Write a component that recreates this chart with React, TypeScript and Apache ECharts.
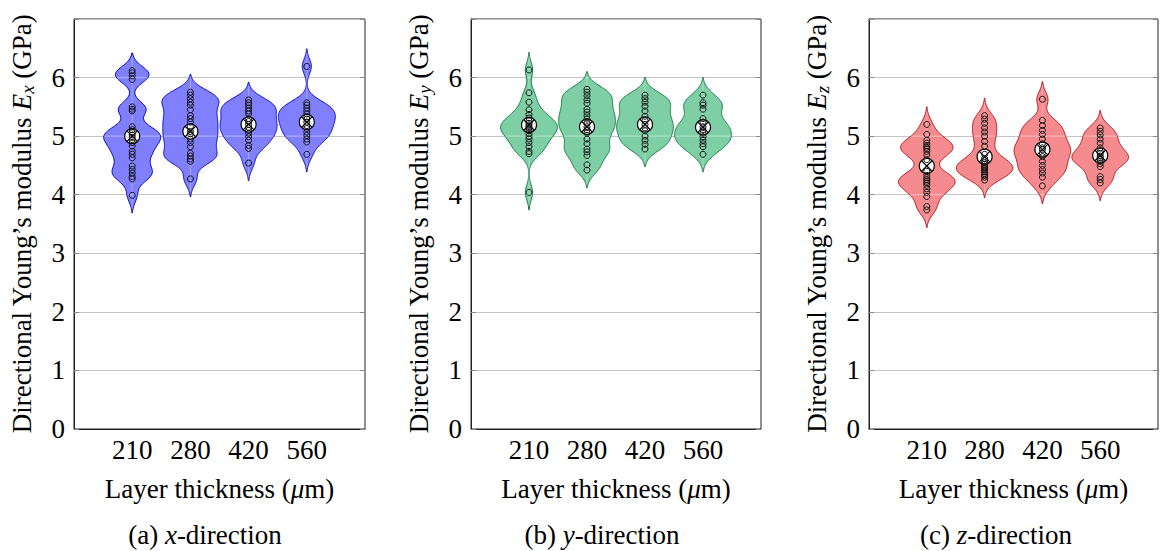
import React, { useEffect, useRef } from 'react';
import * as echarts from 'echarts';

const categories = ['210', '280', '420', '560'];
const yTicks = [0, 1, 2, 3, 4, 5, 6];

// Directional Young's modulus data points (GPa), one list per layer thickness
const exPoints: number[][] = [
  [6.12, 6.08, 6.03, 5.97, 5.50, 5.46, 5.43, 5.16, 5.11, 5.06, 5.02, 4.98, 4.94, 4.89, 4.83, 4.74, 4.69, 4.63, 4.49, 4.43, 4.37, 4.31, 4.27, 3.99],
  [5.75, 5.70, 5.64, 5.58, 5.53, 5.45, 5.35, 5.30, 5.24, 5.16, 5.08, 5.04, 4.95, 4.89, 4.82, 4.71, 4.66, 4.61, 4.57, 4.27],
  [5.62, 5.57, 5.53, 5.48, 5.43, 5.38, 5.30, 5.25, 5.20, 5.15, 5.10, 5.05, 4.99, 4.93, 4.84, 4.79, 4.54],
  [6.19, 5.57, 5.53, 5.48, 5.43, 5.38, 5.33, 5.29, 5.24, 5.18, 5.13, 5.07, 5.01, 4.95, 4.90, 4.69],
];
const eyPoints: number[][] = [
  [6.13, 5.74, 5.58, 5.45, 5.37, 5.31, 5.26, 5.22, 5.19, 5.16, 5.13, 5.09, 5.05, 5.00, 4.95, 4.89, 4.82, 4.74, 4.70, 4.04],
  [5.80, 5.75, 5.69, 5.62, 5.56, 5.46, 5.41, 5.35, 5.29, 5.22, 5.16, 5.11, 5.05, 4.95, 4.87, 4.78, 4.73, 4.67, 4.51, 4.42],
  [5.70, 5.64, 5.58, 5.51, 5.43, 5.34, 5.27, 5.20, 5.14, 5.09, 5.00, 4.93, 4.86, 4.78],
  [5.70, 5.57, 5.53, 5.46, 5.30, 5.24, 5.16, 5.11, 5.05, 4.99, 4.93, 4.87, 4.82, 4.69],
];
const ezPoints: number[][] = [
  [5.20, 5.03, 4.93, 4.88, 4.84, 4.81, 4.78, 4.74, 4.68, 4.60, 4.40, 4.33, 4.29, 4.26, 4.23, 4.20, 4.16, 4.10, 4.04, 3.97, 3.80, 3.74],
  [5.35, 5.29, 5.22, 5.14, 5.07, 5.00, 4.91, 4.83, 4.69, 4.62, 4.58, 4.55, 4.52, 4.49, 4.47, 4.45, 4.42, 4.39, 4.36, 4.33, 4.30, 4.25],
  [5.63, 5.27, 5.18, 5.10, 5.03, 4.95, 4.87, 4.80, 4.77, 4.71, 4.65, 4.57, 4.50, 4.43, 4.37, 4.30, 4.15],
  [5.14, 5.08, 5.02, 4.95, 4.88, 4.80, 4.74, 4.70, 4.66, 4.63, 4.60, 4.57, 4.53, 4.48, 4.31, 4.26, 4.20],
];

// Mean markers
const exMeans = [5.00, 5.08, 5.20, 5.24];
const eyMeans = [5.19, 5.16, 5.20, 5.15];
const ezMeans = [4.49, 4.65, 4.77, 4.67];

const captions = [
  ['(a) ', 'x', '-direction'],
  ['(b) ', 'y', '-direction'],
  ['(c) ', 'z', '-direction'],
];
const subscripts = ['x', 'y', 'z'];

const FONT = 'Liberation Serif';
const FS = 27;

const panels = [
  { pts: exPoints, means: exMeans, fill: '#8080ff', edge: '#0a0ac8', left: 74, width: 291, capX: 205 },
  { pts: eyPoints, means: eyMeans, fill: '#7fcfa6', edge: '#147a42', left: 471, width: 290, capX: 602 },
  { pts: ezPoints, means: ezMeans, fill: '#f58b8f', edge: '#b0141e', left: 869, width: 289, capX: 996 },
];

const BW = 0.125;
const CUT = 0.3;
const HALF = 0.49;

function profile(vals: number[]) {
  const lo = Math.min(...vals) - CUT;
  const hi = Math.max(...vals) + CUT;
  const n = 160;
  const ys: number[] = [];
  const ds: number[] = [];
  for (let k = 0; k <= n; k++) {
    const y = lo + ((hi - lo) * k) / n;
    let s = 0;
    for (const v of vals) {
      const z = (y - v) / BW;
      s += Math.exp(-0.5 * z * z);
    }
    ys.push(y);
    ds.push(s);
  }
  const m = Math.max(...ds);
  return { ys, ws: ds.map((d) => (HALF * d) / m), lo, hi };
}

function widthAt(pr: { ys: number[]; ws: number[] }, y: number) {
  for (let k = 0; k < pr.ys.length - 1; k++) {
    if (y >= pr.ys[k] && y <= pr.ys[k + 1]) {
      const t = (y - pr.ys[k]) / (pr.ys[k + 1] - pr.ys[k]);
      return pr.ws[k] + t * (pr.ws[k + 1] - pr.ws[k]);
    }
  }
  return 0;
}

const rich = {
  n: { fontFamily: FONT, fontSize: FS, color: '#000', lineHeight: 30, verticalAlign: 'middle' as const },
  i: { fontFamily: FONT, fontSize: FS, color: '#000', fontStyle: 'italic' as const, lineHeight: 30, verticalAlign: 'middle' as const },
  s: { fontFamily: FONT, fontSize: 19, color: '#000', fontStyle: 'italic' as const, lineHeight: 18, verticalAlign: 'bottom' as const },
};

export default function App() {
  const ref = useRef<HTMLDivElement>(null);
  useEffect(() => {
    if (!ref.current) return;
    const chart = echarts.init(ref.current, undefined, { renderer: 'svg' });
    const grid: any[] = [];
    const xAxis: any[] = [];
    const yAxis: any[] = [];
    const series: any[] = [];
    const graphic: any[] = [];

    panels.forEach((p, gi) => {
      grid.push({
        left: p.left, top: 19, width: p.width, height: 410,
        show: true, borderColor: '#222', borderWidth: 1, backgroundColor: 'transparent',
      });
      xAxis.push({
        type: 'value', gridIndex: gi, min: 0, max: 5, interval: 1,
        axisLine: { lineStyle: { color: '#222', width: 1 } },
        axisTick: { show: false },
        splitLine: { show: false },
        axisLabel: {
          margin: 7, fontFamily: FONT, fontSize: FS, color: '#000',
          formatter: (v: number) => categories[v - 1] ?? '',
        },
        name: '{n|Layer thickness (}{i|μ}{n|m)}',
        nameLocation: 'middle', nameGap: 45,
        nameTextStyle: { rich },
      });
      yAxis.push({
        type: 'value', gridIndex: gi, min: 0, max: 7, interval: 1,
        axisLine: { show: true, lineStyle: { color: '#222', width: 1 } },
        axisTick: { show: true, inside: true, length: 5, lineStyle: { color: '#888' } },
        splitLine: { show: true, lineStyle: { color: '#c4c4c4', width: 1 } },
        axisLabel: {
          margin: 9, fontFamily: FONT, fontSize: FS, color: '#000',
          formatter: (v: number) => (yTicks.includes(v) ? String(v) : ''),
        },
        name: `{n|Directional Young’s modulus }{i|E}{s|${subscripts[gi]}}{n| (GPa)}`,
        nameLocation: 'middle', nameGap: 37,
        nameTextStyle: { rich },
      });
      yAxis.push({
        type: 'value', gridIndex: gi, min: 0, max: 7, interval: 1, position: 'right',
        axisLine: { show: false },
        axisTick: { show: true, inside: true, length: 5, lineStyle: { color: '#888' } },
        splitLine: { show: false },
        axisLabel: { show: false },
      });

      const profiles = p.pts.map((vals) => profile(vals));
      series.push({
        type: 'custom', xAxisIndex: gi, yAxisIndex: gi * 2, z: 2,
        data: p.means.map((m, i) => [i + 1, m]),
        encode: { x: 0, y: 1 },
        renderItem: (params: any, api: any) => {
          const pos = api.value(0);
          const pr = profiles[pos - 1];
          const right: number[][] = [];
          const left: number[][] = [];
          for (let k = 0; k < pr.ys.length; k++) {
            right.push(api.coord([pos + pr.ws[k], pr.ys[k]]));
          }
          for (let k = pr.ys.length - 1; k >= 0; k--) {
            left.push(api.coord([pos - pr.ws[k], pr.ys[k]]));
          }
          const top = api.coord([pos, pr.hi]);
          const bot = api.coord([pos, pr.lo]);
          const children: any[] = [
            {
              type: 'polygon',
              shape: { points: right.concat(left) },
              style: { fill: p.fill, stroke: p.edge, lineWidth: 1 },
            },
            {
              type: 'line',
              shape: { x1: top[0], y1: top[1] + 4, x2: bot[0], y2: bot[1] - 4 },
              style: { stroke: 'rgba(255,255,255,0.3)', lineWidth: 1 },
            },
          ];
          for (const g of yTicks) {
            if (g > pr.lo && g < pr.hi) {
              const w = widthAt(pr, g) - 0.01;
              if (w > 0) {
                const a = api.coord([pos - w, g]);
                const b = api.coord([pos + w, g]);
                children.push({
                  type: 'line',
                  shape: { x1: a[0], y1: a[1], x2: b[0], y2: b[1] },
                  style: { stroke: 'rgba(255,255,255,0.35)', lineWidth: 1.2 },
                });
              }
            }
          }
          return { type: 'group', children };
        },
      });
      series.push({
        type: 'custom', xAxisIndex: gi, yAxisIndex: gi * 2, z: 3,
        data: p.means.map((m, i) => [i + 1, m]),
        encode: { x: 0, y: 1 },
        renderItem: (params: any, api: any) => {
          const c = api.coord([api.value(0), api.value(1)]);
          const r = 7.5;
          const d = r * 0.7;
          return {
            type: 'group',
            children: [
              { type: 'circle', shape: { cx: c[0], cy: c[1], r }, style: { fill: '#fff', stroke: '#000', lineWidth: 1.2 } },
              { type: 'line', shape: { x1: c[0] - d, y1: c[1] - d, x2: c[0] + d, y2: c[1] + d }, style: { stroke: '#000', lineWidth: 1.2 } },
              { type: 'line', shape: { x1: c[0] + d, y1: c[1] - d, x2: c[0] - d, y2: c[1] + d }, style: { stroke: '#000', lineWidth: 1.2 } },
            ],
          };
        },
      });
      const pts: number[][] = [];
      p.pts.forEach((vals, i) => vals.forEach((v) => pts.push([i + 1, v])));
      series.push({
        type: 'scatter', xAxisIndex: gi, yAxisIndex: gi * 2, z: 4,
        data: pts, symbol: 'circle', symbolSize: 6,
        itemStyle: { color: 'rgba(0,0,0,0)', borderColor: '#111', borderWidth: 1, opacity: 1 },
        emphasis: { disabled: true },
      });

      const cap = captions[gi];
      graphic.push({
        type: 'text', x: p.capX, y: 535,
        style: {
          text: `{n|${cap[0]}}{i|${cap[1]}}{n|${cap[2]}}`,
          rich, align: 'center', verticalAlign: 'middle',
        },
      });
    });

    chart.setOption({
      animation: false,
      grid, xAxis, yAxis, series, graphic,
    });
    return () => chart.dispose();
  }, []);
  return <div ref={ref} style={{ position: 'absolute', left: 0, top: 0, width: 1161, height: 551 }} />;
}
